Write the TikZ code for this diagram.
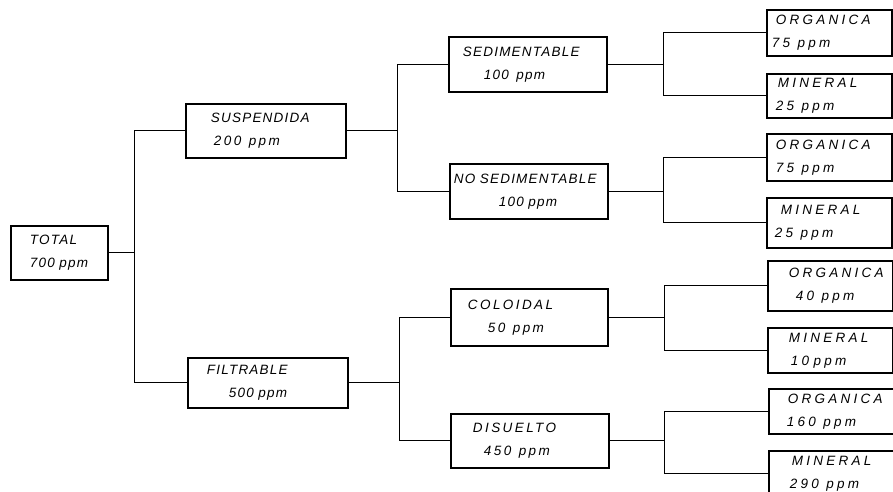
\documentclass[tikz,border=0pt]{standalone}
\usepackage{fontspec}
\newfontfamily\hand{Liberation Sans}[LetterSpace=9]
\newfontfamily\handw{Liberation Sans}[LetterSpace=18]
\newfontfamily\handww{Liberation Sans}[LetterSpace=24]
\newcommand\myind[1]{\hspace*{#1pt}}
\newcommand\wide{\handw\itshape}
\newcommand\gap{ \hspace{3pt}}
\tikzset{
  bx/.style={draw, line width=1.8pt, rectangle, anchor=north west, inner sep=0pt,
    align=left, font=\hand\itshape\fontsize{13.5}{23}\selectfont},
  lf/.style={bx, text width=125pt, font=\handww\itshape\fontsize{13.5}{23}\selectfont},
  ln/.style={line width=1.1pt},
}
\begin{document}
\begin{tikzpicture}[x=1pt,y=-1pt]
\useasboundingbox (0,0) rectangle (893,491);
% level 0
\node[bx, minimum height=54pt, text width=97pt] (total) at (10,225) {\myind{19}TOTAL\\\myind{19}700 ppm};
% level 1
\node[bx, minimum height=54pt, text width=160pt] (susp) at (185,103) {\myind{25}SUSPENDIDA\\\wide\myind{28}200\gap ppm};
\node[bx, minimum height=50pt, text width=160pt] (filt) at (187,357) {\myind{19}FILTRABLE\\\myind{41}500 ppm};
% level 2
\node[bx, minimum height=55pt, text width=158pt] (sed) at (448,36) {\myind{14}SEDIMENTABLE\\\myind{35}100\gap ppm};
\node[bx, minimum height=55pt, text width=158pt] (nosed) at (449,163) {\myind{4}NO SEDIMENTABLE\\\myind{49}100 ppm};
\node[bx, minimum height=57pt, text width=157pt] (col) at (450,288) {\wide\myind{17}COLOIDAL\\\myind{37}50\gap ppm};
\node[bx, minimum height=54pt, text width=158pt] (dis) at (450,413) {\wide\myind{22}DISUELTO\\\myind{33}450\gap ppm};
% level 3
\node[lf, minimum height=46pt] (o1) at (766,9) {\myind{9}ORGANICA\\\myind{5}75\gap ppm};
\node[lf, minimum height=44pt] (m1) at (766,73) {\myind{11}MINERAL\\\myind{9}25\gap ppm};
\node[lf, minimum height=47pt] (o2) at (766,133) {\myind{9}ORGANICA\\\myind{9}75\gap ppm};
\node[lf, minimum height=50pt] (m2) at (766,197) {\myind{14}MINERAL\\\myind{8}25\gap ppm};
\node[lf, minimum height=50pt] (o3) at (767,260) {\myind{21}ORGANICA\\\myind{28}40\gap ppm};
\node[lf, minimum height=45pt] (m3) at (767,327) {\myind{21}MINERAL\\\myind{23}10 ppm};
\node[lf, minimum height=45pt] (o4) at (768,388) {\myind{19}ORGANICA\\\myind{18}160\gap ppm};
\node[lf, minimum height=46pt] (m4) at (768,450) {\myind{23}MINERAL\\\myind{21}290\gap ppm};
% connectors
\draw[ln] (total.east) -- ++(26,0) coordinate (j0);
\draw[ln] (j0) |- (susp.west);
\draw[ln] (j0) |- (filt.west);
\draw[ln] (susp.east) -- ++(51,0) coordinate (j1);
\draw[ln] (j1) |- (sed.west);
\draw[ln] (j1) |- (nosed.west);
\draw[ln] (filt.east) -- ++(51,0) coordinate (j2);
\draw[ln] (j2) |- (col.west);
\draw[ln] (j2) |- (dis.west);
\draw[ln] (sed.east) -- ++(56,0) coordinate (j3);
\draw[ln] (j3) |- (o1.west);
\draw[ln] (j3) |- (m1.west);
\draw[ln] (nosed.east) -- ++(55,0) coordinate (j4);
\draw[ln] (j4) |- (o2.west);
\draw[ln] (j4) |- (m2.west);
\draw[ln] (col.east) -- ++(56,0) coordinate (j5);
\draw[ln] (j5) |- (o3.west);
\draw[ln] (j5) |- (m3.west);
\draw[ln] (dis.east) -- ++(55,0) coordinate (j6);
\draw[ln] (j6) |- (o4.west);
\draw[ln] (j6) |- (m4.west);
\end{tikzpicture}
\end{document}
